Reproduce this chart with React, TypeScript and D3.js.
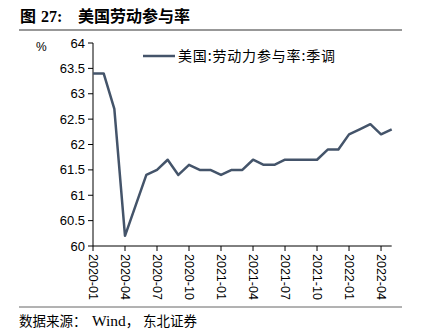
import React from "react";
import * as d3 from "d3";

const months: string[] = [
  "2020-01","2020-02","2020-03","2020-04","2020-05","2020-06","2020-07","2020-08","2020-09","2020-10","2020-11","2020-12",
  "2021-01","2021-02","2021-03","2021-04","2021-05","2021-06","2021-07","2021-08","2021-09","2021-10","2021-11","2021-12",
  "2022-01","2022-02","2022-03","2022-04","2022-05",
];
const values: number[] = [
  63.4, 63.4, 62.7, 60.2, 60.8, 61.4, 61.5, 61.7, 61.4, 61.6, 61.5, 61.5,
  61.4, 61.5, 61.5, 61.7, 61.6, 61.6, 61.7, 61.7, 61.7, 61.7, 61.9, 61.9,
  62.2, 62.3, 62.4, 62.2, 62.3,
];
const yTicks: number[] = [60, 60.5, 61, 61.5, 62, 62.5, 63, 63.5, 64];
const xTickLabels: string[] = ["2020-01","2020-04","2020-07","2020-10","2021-01","2021-04","2021-07","2021-10","2022-01","2022-04"];

const seriesName = "美国:劳动力参与率:季调";

export default function App() {
  const W = 422, H = 336;
  const x0 = 93, x1 = 391.7;
  const yTop = 43, yBot = 246;
  const x = d3.scalePoint<string>().domain(months).range([x0, x1]);
  const y = d3.scaleLinear().domain([60, 64]).range([yBot, yTop]);
  const line = d3.line<number>().x((_, i) => x(months[i]) as number).y((d) => y(d));
  const color = "#44546A";
  const cjk = "'Noto Sans CJK SC', 'Noto Sans', sans-serif";
  const serif = "'Liberation Serif', 'Noto Sans CJK SC', serif";
  const sans = "'Liberation Sans', Arial, sans-serif";
  return (
    <svg width={W} height={H} style={{ position: "absolute", left: 0, top: 0 }}>
      <rect width={W} height={H} fill="#fff" />
      <text y={22} fontSize={16} fontWeight="bold" fill="#000">
        <tspan x={20} fontFamily={cjk}>图</tspan>
        <tspan x={41} fontFamily={serif}>27:</tspan>
        <tspan x={78} fontFamily={cjk} textLength={112} lengthAdjust="spacing">美国劳动参与率</tspan>
      </text>
      <line x1={19} x2={402} y1={30} y2={30} stroke="#333" strokeWidth={1.2} />

      {/* legend */}
      <line x1={143} x2={175} y1={56} y2={56} stroke={color} strokeWidth={2.5} />
      <text x={178} y={61} fontSize={14} fontFamily={cjk} fill="#000" textLength={157} lengthAdjust="spacing">{seriesName}</text>

      {/* y axis */}
      <line x1={x0} x2={x0} y1={yTop} y2={yBot} stroke="#000" strokeWidth={1} />
      {yTicks.map((t) => (
        <g key={t}>
          <line x1={x0 - 5} x2={x0} y1={y(t)} y2={y(t)} stroke="#000" />
          <text x={x0 - 8} y={y(t)} dy="0.35em" textAnchor="end" fontSize={13} fontFamily={sans} fill="#000">{t}</text>
        </g>
      ))}
      <text x={36} y={51} fontSize={12} fontFamily={sans} fill="#000">%</text>

      {/* x axis */}
      <line x1={x0} x2={x1} y1={yBot} y2={yBot} stroke="#000" strokeWidth={1} />
      {xTickLabels.map((m) => (
        <g key={m} transform={`translate(${x(m)},${yBot})`}>
          <line y1={0} y2={5} stroke="#000" />
          <text transform="translate(-4,8) rotate(90)" fontSize={12.5} fontFamily={sans} fill="#000" textAnchor="start">{m}</text>
        </g>
      ))}

      <path d={line(values) ?? ""} fill="none" stroke={color} strokeWidth={2.5} strokeLinejoin="round" />

      <line x1={19} x2={402} y1={307} y2={307} stroke="#666" strokeWidth={1} />
      <text y={326} fontSize={13.5} fill="#000">
        <tspan x={19} fontFamily={cjk}>数据来源：</tspan>
        <tspan x={92} fontFamily={serif} fontSize={15.5}>Wind</tspan>
        <tspan fontFamily={cjk}>，</tspan>
        <tspan x={143} fontFamily={cjk} textLength={54} lengthAdjust="spacing">东北证券</tspan>
      </text>
    </svg>
  );
}
